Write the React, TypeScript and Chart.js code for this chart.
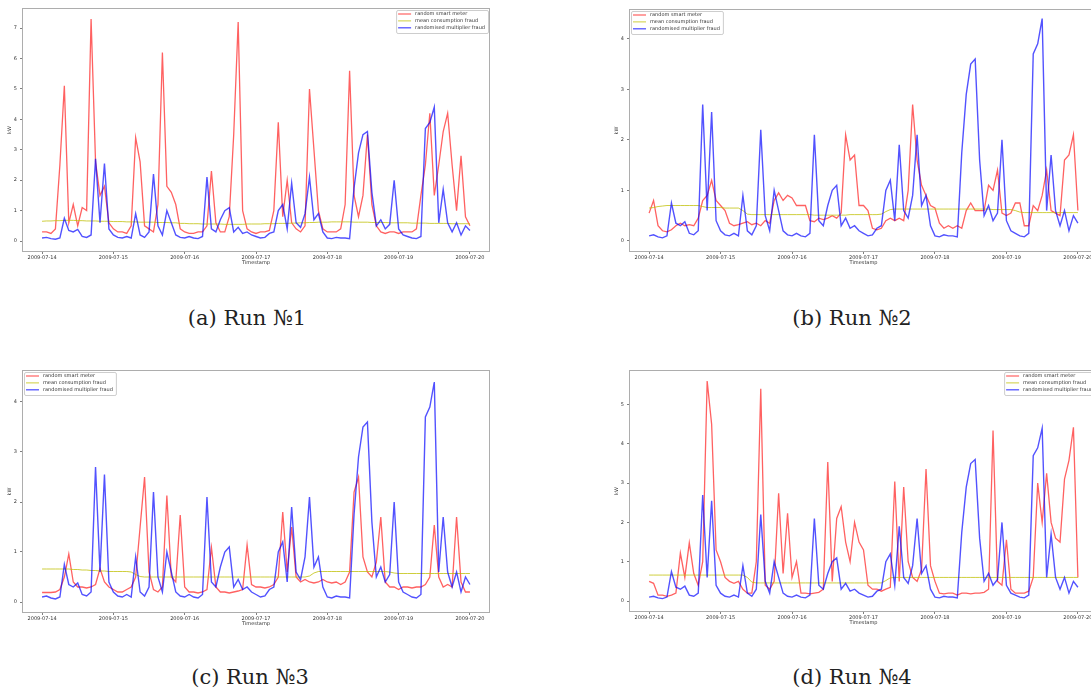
import React, { useEffect, useRef } from "react";
import { Chart, registerables } from "chart.js";

Chart.register(...registerables);

// ---------- data ----------
const xTickLabels = ["2009-07-14", "2009-07-15", "2009-07-16", "2009-07-17", "2009-07-18", "2009-07-19", "2009-07-20"];
const xTickIndex = [0, 16, 32, 48, 64, 80, 96];
const legendLabels = ["random smart meter", "mean consumption fraud", "randomised multiplier fraud"];
const captions = ["(a) Run №1", "(b) Run №2", "(c) Run №3", "(d) Run №4"];
const yTicksRun1 = [0, 1, 2, 3, 4, 5, 6, 7];
const yTicksRun2 = [0, 1, 2, 3, 4];
const yTicksRun3 = [0, 1, 2, 3, 4];
const yTicksRun4 = [0, 1, 2, 3, 4, 5];

const blueMultiplier = [
  0.10, 0.12, 0.08, 0.06, 0.10, 0.75, 0.35, 0.30, 0.38, 0.15,
  0.12, 0.20, 2.70, 0.60, 2.55, 0.40, 0.20, 0.12, 0.10, 0.15,
  0.10, 0.90, 0.20, 0.12, 0.30, 2.20, 0.50, 0.20, 1.00, 0.60,
  0.20, 0.12, 0.10, 0.15, 0.10, 0.08, 0.15, 2.10, 0.40, 0.30,
  0.70, 1.00, 1.10, 0.30, 0.45, 0.25, 0.30, 0.20, 0.15, 0.10,
  0.12, 0.25, 0.30, 1.00, 1.20, 0.40, 1.90, 0.60, 0.45, 0.90,
  2.10, 0.70, 0.90, 0.30, 0.10, 0.08, 0.12, 0.10, 0.10, 0.08,
  1.75, 2.90, 3.50, 3.60, 1.60, 0.50, 0.70, 0.40, 0.55, 2.00,
  0.40, 0.20, 0.15, 0.10, 0.08, 0.15, 3.70, 3.90, 4.40, 0.60,
  1.70, 0.60, 0.30, 0.60, 0.20, 0.50, 0.35,
];

const redRun1 = [
  0.30, 0.30, 0.25, 0.40, 2.50, 5.10, 0.60, 1.20, 0.50, 1.10,
  1.00, 7.30, 2.60, 1.50, 1.80, 0.60, 0.40, 0.30, 0.30, 0.25,
  0.50, 3.40, 2.60, 0.50, 0.40, 0.30, 1.20, 6.20, 1.80, 1.60,
  1.20, 0.40, 0.30, 0.25, 0.25, 0.30, 0.30, 0.50, 2.30, 0.60,
  0.30, 0.30, 0.80, 3.50, 7.20, 1.00, 0.40, 0.30, 0.25, 0.30,
  0.30, 0.35, 1.00, 3.90, 0.80, 2.00, 0.60, 0.40, 0.30, 0.50,
  5.00, 3.00, 1.00, 0.40, 0.30, 0.30, 0.30, 0.40, 1.20, 5.60,
  1.50, 0.80, 1.50, 3.50, 1.20, 0.50, 0.30, 0.25, 0.30, 0.30,
  0.25, 0.30, 0.30, 0.30, 0.40, 1.50, 2.50, 4.20, 1.50, 2.50,
  3.60, 4.20, 2.50, 1.00, 2.80, 0.80, 0.50,
];
const redRun2 = [
  0.55, 0.80, 0.30, 0.20, 0.18, 0.22, 0.30, 0.35, 0.30, 0.32,
  0.30, 0.45, 0.80, 0.90, 1.20, 0.80, 0.70, 0.60, 0.35, 0.30,
  0.32, 0.35, 0.38, 0.32, 0.35, 0.30, 0.40, 0.35, 0.80, 0.95,
  0.80, 0.90, 0.85, 0.70, 0.70, 0.70, 0.40, 0.38, 0.45, 0.42,
  0.45, 0.50, 0.45, 0.55, 2.10, 1.60, 1.70, 0.70, 0.70, 0.60,
  0.25, 0.22, 0.25, 0.40, 0.45, 0.40, 0.45, 0.40, 1.00, 2.70,
  1.60, 1.10, 0.90, 0.70, 0.65, 0.35, 0.25, 0.30, 0.25, 0.30,
  0.25, 0.60, 0.75, 0.60, 0.60, 0.60, 1.10, 1.00, 1.40, 0.55,
  0.50, 0.55, 0.75, 0.75, 0.30, 0.30, 0.70, 0.60, 0.90, 1.40,
  0.60, 0.55, 0.50, 1.60, 1.70, 2.10, 0.60,
];
const redRun3 = [
  0.19, 0.19, 0.19, 0.20, 0.25, 0.50, 0.96, 0.40, 0.30, 0.30,
  0.28, 0.30, 0.35, 0.67, 0.40, 0.30, 0.25, 0.20, 0.20, 0.25,
  0.30, 0.50, 1.50, 2.50, 0.60, 0.25, 0.20, 0.30, 2.13, 0.50,
  0.40, 1.74, 0.30, 0.20, 0.20, 0.18, 0.20, 0.25, 1.09, 0.30,
  0.20, 0.20, 0.18, 0.20, 0.22, 0.25, 1.14, 0.35, 0.30, 0.30,
  0.28, 0.30, 0.35, 0.50, 1.80, 0.60, 1.50, 0.50, 0.40, 0.45,
  0.40, 0.38, 0.40, 0.45, 0.40, 0.38, 0.40, 0.35, 0.40, 0.60,
  2.20, 2.50, 0.90, 0.60, 0.50, 0.80, 1.70, 0.40, 0.30, 0.30,
  0.25, 0.30, 0.30, 0.28, 0.30, 0.30, 0.35, 0.50, 1.54, 0.50,
  0.30, 0.35, 0.30, 1.70, 0.40, 0.20, 0.20,
];
const redRun4 = [
  0.50, 0.45, 0.15, 0.15, 0.12, 0.15, 0.20, 1.22, 0.60, 1.48,
  0.70, 0.40, 1.00, 5.60, 4.50, 1.30, 1.00, 0.60, 0.50, 0.45,
  0.50, 0.30, 0.20, 0.20, 1.00, 5.40, 0.40, 0.30, 0.50, 2.74,
  0.70, 2.23, 0.60, 1.00, 0.20, 0.20, 0.18, 0.20, 0.22, 0.30,
  3.54, 0.50, 2.10, 2.40, 1.50, 1.00, 2.00, 1.50, 1.30, 0.40,
  0.30, 0.30, 0.25, 0.30, 0.35, 3.04, 0.50, 2.90, 1.00, 0.60,
  0.50, 0.80, 3.36, 0.90, 0.50, 0.20, 0.18, 0.20, 0.20, 0.15,
  0.20, 0.20, 0.18, 0.20, 0.20, 0.22, 0.30, 4.34, 0.50, 0.40,
  1.56, 0.30, 0.20, 0.20, 0.20, 0.25, 0.60, 3.00, 2.00, 3.25,
  2.00, 1.60, 1.50, 3.10, 3.58, 4.42, 0.60,
];

const meanRun1 = [
  0.65, 0.66, 0.66, 0.67, 0.67, 0.68, 0.68, 0.68, 0.67, 0.67,
  0.66, 0.66, 0.66, 0.65, 0.65, 0.65, 0.64, 0.64, 0.64, 0.63,
  0.63, 0.63, 0.62, 0.62, 0.62, 0.62, 0.61, 0.61, 0.61, 0.60,
  0.60, 0.58, 0.58, 0.57, 0.57, 0.57, 0.56, 0.56, 0.56, 0.56,
  0.56, 0.55, 0.55, 0.55, 0.55, 0.55, 0.56, 0.56, 0.56, 0.56,
  0.57, 0.57, 0.57, 0.58, 0.58, 0.58, 0.59, 0.59, 0.60, 0.60,
  0.61, 0.61, 0.62, 0.62, 0.62, 0.63, 0.63, 0.63, 0.63, 0.63,
  0.62, 0.62, 0.62, 0.62, 0.61, 0.61, 0.61, 0.61, 0.60, 0.60,
  0.60, 0.60, 0.60, 0.59, 0.59, 0.59, 0.59, 0.58, 0.58, 0.58,
  0.58, 0.58, 0.57, 0.57, 0.57, 0.57, 0.57,
];
const meanRun2 = [
  0.65, 0.66, 0.68, 0.69, 0.70, 0.70, 0.70, 0.70, 0.70, 0.70,
  0.70, 0.70, 0.68, 0.66, 0.66, 0.66, 0.66, 0.65, 0.65, 0.65,
  0.65, 0.60, 0.53, 0.52, 0.52, 0.52, 0.52, 0.52, 0.52, 0.52,
  0.52, 0.52, 0.52, 0.52, 0.52, 0.52, 0.52, 0.51, 0.51, 0.51,
  0.51, 0.51, 0.51, 0.51, 0.51, 0.52, 0.52, 0.52, 0.52, 0.52,
  0.52, 0.52, 0.53, 0.58, 0.62, 0.63, 0.63, 0.63, 0.63, 0.63,
  0.63, 0.63, 0.63, 0.63, 0.63, 0.63, 0.63, 0.63, 0.63, 0.63,
  0.63, 0.63, 0.63, 0.63, 0.63, 0.63, 0.63, 0.62, 0.62, 0.62,
  0.62, 0.62, 0.60, 0.57, 0.56, 0.56, 0.56, 0.56, 0.56, 0.56,
  0.56, 0.56, 0.56, 0.56, 0.56, 0.56, 0.56,
];
const meanRun3 = [
  0.66, 0.66, 0.66, 0.66, 0.66, 0.66, 0.66, 0.65, 0.65, 0.64,
  0.64, 0.63, 0.63, 0.62, 0.62, 0.61, 0.61, 0.61, 0.61, 0.61,
  0.60, 0.55, 0.51, 0.50, 0.50, 0.50, 0.50, 0.50, 0.50, 0.50,
  0.50, 0.50, 0.50, 0.50, 0.50, 0.50, 0.50, 0.50, 0.50, 0.50,
  0.50, 0.50, 0.50, 0.50, 0.50, 0.50, 0.50, 0.50, 0.50, 0.50,
  0.50, 0.50, 0.50, 0.50, 0.50, 0.50, 0.50, 0.50, 0.50, 0.50,
  0.52, 0.58, 0.61, 0.61, 0.61, 0.61, 0.61, 0.61, 0.61, 0.61,
  0.61, 0.61, 0.61, 0.61, 0.61, 0.61, 0.61, 0.61, 0.60, 0.58,
  0.57, 0.57, 0.57, 0.57, 0.57, 0.57, 0.57, 0.57, 0.57, 0.57,
  0.57, 0.57, 0.57, 0.57, 0.57, 0.57, 0.57,
];
const meanRun4 = [
  0.66, 0.66, 0.66, 0.66, 0.66, 0.66, 0.66, 0.66, 0.66, 0.66,
  0.66, 0.66, 0.66, 0.66, 0.66, 0.66, 0.66, 0.66, 0.66, 0.66,
  0.66, 0.66, 0.60, 0.48, 0.46, 0.46, 0.46, 0.46, 0.46, 0.46,
  0.46, 0.46, 0.46, 0.46, 0.46, 0.46, 0.46, 0.46, 0.46, 0.46,
  0.46, 0.46, 0.46, 0.46, 0.46, 0.46, 0.46, 0.46, 0.46, 0.46,
  0.46, 0.46, 0.46, 0.52, 0.59, 0.60, 0.60, 0.60, 0.60, 0.60,
  0.60, 0.60, 0.60, 0.60, 0.60, 0.60, 0.60, 0.60, 0.60, 0.60,
  0.60, 0.60, 0.60, 0.60, 0.60, 0.60, 0.60, 0.60, 0.60, 0.60,
  0.60, 0.60, 0.60, 0.60, 0.60, 0.60, 0.60, 0.60, 0.60, 0.60,
  0.60, 0.60, 0.60, 0.60, 0.60, 0.60, 0.60,
];

// ---------- styles ----------
const RED = "rgba(255,0,0,0.62)";
const YELLOW = "rgba(190,190,0,0.85)";
const BLUE = "rgba(0,0,255,0.68)";
const FONT = "DejaVu Sans";
const TXT = "#333";

type PanelCfg = {
  red: number[];
  mean: number[];
  yTicks: number[];
  yMin: number;
  yMax: number;
  plotLeft: number;
  plotTop: number;
  plotRight: number;
  plotBottom: number;
  legendSide: "left" | "right";
};

const panels: PanelCfg[] = [
  { red: redRun1, mean: meanRun1, yTicks: yTicksRun1, yMin: -0.36, yMax: 7.66, plotLeft: 22, plotTop: 8, plotRight: 490, plotBottom: 252, legendSide: "right" },
  { red: redRun2, mean: meanRun2, yTicks: yTicksRun2, yMin: -0.22, yMax: 4.59, plotLeft: 629, plotTop: 9, plotRight: 1098, plotBottom: 252, legendSide: "left" },
  { red: redRun3, mean: meanRun3, yTicks: yTicksRun3, yMin: -0.22, yMax: 4.64, plotLeft: 22, plotTop: 370, plotRight: 490, plotBottom: 613, legendSide: "left" },
  { red: redRun4, mean: meanRun4, yTicks: yTicksRun4, yMin: -0.28, yMax: 5.88, plotLeft: 629, plotTop: 370, plotRight: 1098, plotBottom: 612, legendSide: "right" },
];

const captionPos = [
  { cx: 247, cy: 318 },
  { cx: 852, cy: 318 },
  { cx: 250, cy: 677 },
  { cx: 852, cy: 677 },
];

const Y_AXIS_W = 21;
const X_AXIS_H = 14;
const PAD_TOP = 6;
const PAD_RIGHT = 4;

const toPoints = (arr: number[]) => arr.map((v, i) => ({ x: i, y: v }));

function makeOverlay(side: "left" | "right") {
  return {
    id: "frameLegend",
    afterDraw(chart: any) {
      const { ctx, chartArea: ca } = chart;
      ctx.save();
      ctx.strokeStyle = "rgba(0,0,0,0.32)";
      ctx.lineWidth = 1;
      ctx.strokeRect(Math.round(ca.left) + 0.5, Math.round(ca.top) + 0.5, Math.round(ca.right - ca.left) - 1, Math.round(ca.bottom - ca.top) - 1);
      ctx.font = `5px "${FONT}"`;
      const tw = Math.max(...legendLabels.map((l) => ctx.measureText(l).width));
      const fw = 19 + tw + 3;
      const fh = 23;
      const fx = side === "left" ? ca.left + 2 : ca.right - 2 - fw;
      const fy = ca.top + 2;
      ctx.fillStyle = "rgba(255,255,255,0.85)";
      ctx.strokeStyle = "rgba(200,200,200,0.9)";
      ctx.beginPath();
      if ((ctx as any).roundRect) (ctx as any).roundRect(fx + 0.5, fy + 0.5, fw, fh, 1.5);
      else ctx.rect(fx + 0.5, fy + 0.5, fw, fh);
      ctx.fill();
      ctx.stroke();
      const colors = [RED, YELLOW, BLUE];
      const widths = [1.2, 0.9, 1.3];
      legendLabels.forEach((label, k) => {
        const y = ca.top + 6 + k * 6.9;
        ctx.strokeStyle = colors[k];
        ctx.lineWidth = widths[k];
        ctx.beginPath();
        ctx.moveTo(fx + 2, y);
        ctx.lineTo(fx + 15, y);
        ctx.stroke();
        ctx.fillStyle = TXT;
        ctx.textBaseline = "middle";
        ctx.textAlign = "left";
        ctx.fillText(label, fx + 19, y);
      });
      ctx.restore();
    },
  };
}

function Panel({ cfg }: { cfg: PanelCfg }) {
  const ref = useRef<HTMLCanvasElement>(null);
  const canvasLeft = cfg.plotLeft - Y_AXIS_W;
  const canvasTop = cfg.plotTop - PAD_TOP;
  const w = cfg.plotRight + PAD_RIGHT - canvasLeft;
  const h = cfg.plotBottom + X_AXIS_H - canvasTop;

  useEffect(() => {
    if (!ref.current) return;
    const tickFont = { family: FONT, size: 5 };
    const chart = new Chart(ref.current, {
      type: "line",
      data: {
        datasets: [
          { label: legendLabels[0], data: toPoints(cfg.red), borderColor: RED, borderWidth: 1.3, pointRadius: 0, order: 2 },
          { label: legendLabels[1], data: toPoints(cfg.mean), borderColor: YELLOW, borderWidth: 0.9, pointRadius: 0, order: 1 },
          { label: legendLabels[2], data: toPoints(blueMultiplier), borderColor: BLUE, borderWidth: 1.4, pointRadius: 0, order: 0 },
        ],
      },
      options: {
        responsive: false,
        animation: false,
        devicePixelRatio: 1,
        layout: { padding: { left: 0, top: PAD_TOP, right: PAD_RIGHT, bottom: 0 } },
        plugins: { legend: { display: false }, tooltip: { enabled: false }, title: { display: false } },
        elements: { line: { tension: 0 }, point: { radius: 0 } },
        scales: {
          x: {
            type: "linear",
            min: -4.5,
            max: 100.5,
            afterFit: (s: any) => { s.height = X_AXIS_H; },
            afterBuildTicks: (s: any) => { s.ticks = xTickIndex.map((v) => ({ value: v })); },
            ticks: {
              callback: (v: any) => { const k = xTickIndex.indexOf(Number(v)); return k >= 0 ? xTickLabels[k] : ""; },
              font: tickFont,
              color: TXT,
              padding: 1,
              maxRotation: 0,
              autoSkip: false,
            },
            grid: { drawOnChartArea: false, drawTicks: true, tickLength: 2, color: "rgba(0,0,0,0.5)" },
            border: { display: false },
            title: { display: true, text: "Timestamp", font: tickFont, color: TXT, padding: 0 },
          },
          y: {
            type: "linear",
            min: cfg.yMin,
            max: cfg.yMax,
            afterFit: (s: any) => { s.width = Y_AXIS_W; },
            afterBuildTicks: (s: any) => { s.ticks = cfg.yTicks.map((v) => ({ value: v })); },
            ticks: { font: tickFont, color: TXT, padding: 3, callback: (v: any) => String(v) },
            grid: { drawOnChartArea: false, drawTicks: true, tickLength: 2, color: "rgba(0,0,0,0.5)" },
            border: { display: false },
            title: { display: true, text: "kW", font: tickFont, color: TXT, padding: { top: 6, bottom: 0 } },
          },
        },
      },
      plugins: [makeOverlay(cfg.legendSide)],
    } as any);
    return () => chart.destroy();
  }, []);

  return (
    <canvas
      ref={ref}
      width={w}
      height={h}
      style={{ position: "absolute", left: canvasLeft, top: canvasTop, width: w, height: h }}
    />
  );
}

export default function App() {
  return (
    <div style={{ position: "absolute", left: 0, top: 0, width: 1091, height: 691, overflow: "hidden", background: "#fff" }}>
      {panels.map((p, i) => (
        <Panel key={i} cfg={p} />
      ))}
      {captions.map((c, i) => (
        <div
          key={"c" + i}
          style={{
            position: "absolute",
            left: captionPos[i].cx - 150,
            top: captionPos[i].cy - 12,
            width: 300,
            height: 24,
            lineHeight: "24px",
            textAlign: "center",
            fontFamily: '"DejaVu Serif", serif',
            fontSize: 21,
            color: "#222",
          }}
        >
          {c}
        </div>
      ))}
    </div>
  );
}
